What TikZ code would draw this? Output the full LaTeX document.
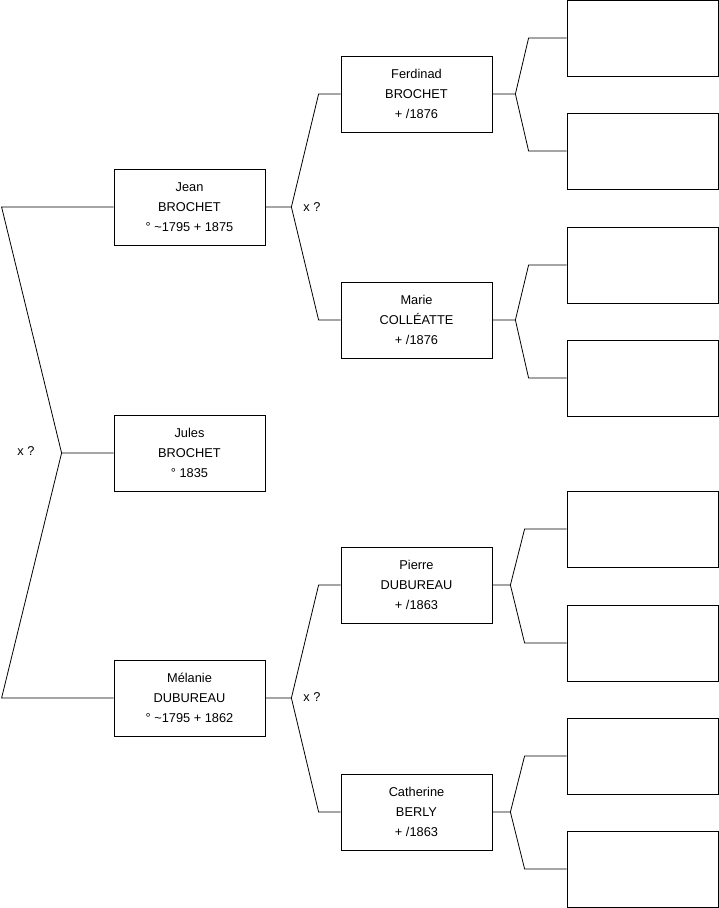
\documentclass[tikz,border=0pt]{standalone}
\usepackage{fontspec}
\setmainfont{Liberation Sans}
\usetikzlibrary{positioning,calc}

\begin{document}
\begin{tikzpicture}[x=1pt, y=-1pt,
  person/.style={draw=black, fill=white, line width=0.8pt,
                 minimum width=151pt, minimum height=76pt, inner sep=0pt,
                 align=center, font=\fontsize{12.8}{20}\selectfont},
  link/.style={draw=black, line width=0.8pt},
  union/.style={font=\fontsize{12.8}{14}\selectfont}
]
  \useasboundingbox (0,0) rectangle (719,908);

  \node[person] (jean)  at (189.5,207) {Jean\\BROCHET\\° \textasciitilde1795 + 1875};
  \node[person] (jules) at (189.5,453) {Jules\\BROCHET\\° 1835};
  \node[person] (mela)  at (189.5,698) {Mélanie\\DUBUREAU\\° \textasciitilde1795 + 1862};

  \node[person] (ferd)  at (416.5,94)  {Ferdinad\\BROCHET\\+ /1876};
  \node[person] (marie) at (416.5,320) {Marie\\COLLÉATTE\\+ /1876};
  \node[person] (pierre) at (416.5,585) {Pierre\\DUBUREAU\\+ /1863};
  \node[person] (cath)  at (416.5,812) {Catherine\\BERLY\\+ /1863};

  \node[person] (e1) at (642.5,38)  {};
  \node[person] (e2) at (642.5,151) {};
  \node[person] (e3) at (642.5,265) {};
  \node[person] (e4) at (642.5,378) {};
  \node[person] (e5) at (642.5,529) {};
  \node[person] (e6) at (642.5,643) {};
  \node[person] (e7) at (642.5,756) {};
  \node[person] (e8) at (642.5,869) {};

  \draw[link] (jules.west) -- ++(-52,0) coordinate (f0)
    -- ([xshift=-112pt]jean.west) -- (jean.west);
  \draw[link] (f0) -- ([xshift=-112pt]mela.west) -- (mela.west);
  \node[union] (u0) at (26,451) {x ?};

  \draw[link] (jean.east) -- ++(26,0) coordinate (f1)
    -- ([xshift=-22pt]ferd.west) -- (ferd.west);
  \draw[link] (f1) -- ([xshift=-22pt]marie.west) -- (marie.west);
  \node[union] (u1) at (312,207) {x ?};

  \draw[link] (mela.east) -- ++(26,0) coordinate (f2)
    -- ([xshift=-22pt]pierre.west) -- (pierre.west);
  \draw[link] (f2) -- ([xshift=-22pt]cath.west) -- (cath.west);
  \node[union] (u2) at (312,697) {x ?};

  \draw[link] (ferd.east) -- ++(23,0) coordinate (f3)
    -- ([xshift=-38pt]e1.west) -- (e1.west);
  \draw[link] (f3) -- ([xshift=-38pt]e2.west) -- (e2.west);

  \draw[link] (marie.east) -- ++(23,0) coordinate (f4)
    -- ([xshift=-38pt]e3.west) -- (e3.west);
  \draw[link] (f4) -- ([xshift=-38pt]e4.west) -- (e4.west);

  \draw[link] (pierre.east) -- ++(18,0) coordinate (f5)
    -- ([xshift=-42pt]e5.west) -- (e5.west);
  \draw[link] (f5) -- ([xshift=-42pt]e6.west) -- (e6.west);

  \draw[link] (cath.east) -- ++(18,0) coordinate (f6)
    -- ([xshift=-42pt]e7.west) -- (e7.west);
  \draw[link] (f6) -- ([xshift=-42pt]e8.west) -- (e8.west);

\end{tikzpicture}
\end{document}
